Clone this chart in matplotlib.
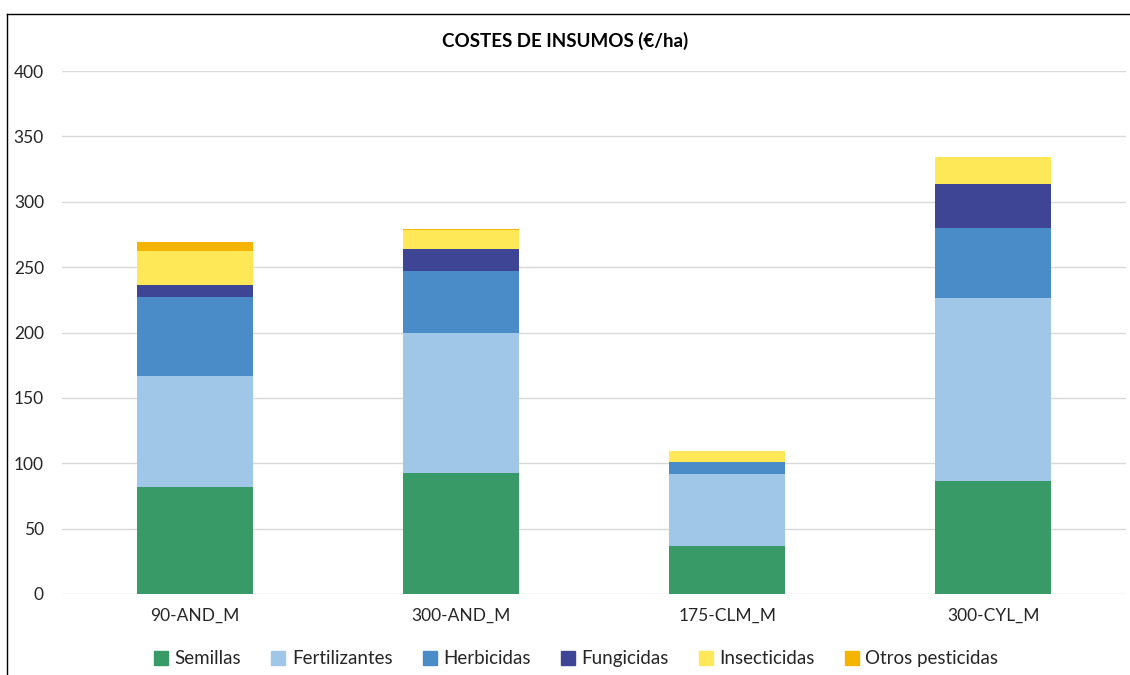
import matplotlib
matplotlib.use("Agg")
import matplotlib.pyplot as plt
import numpy as np
from matplotlib.patches import Rectangle
from matplotlib.lines import Line2D

categories = ["90-AND_M", "300-AND_M", "175-CLM_M", "300-CYL_M"]
series_names = ["Semillas", "Fertilizantes", "Herbicidas", "Fungicidas", "Insecticidas", "Otros pesticidas"]
semillas = [82, 92.5, 37, 86.5]
fertilizantes = [85, 107, 54.5, 140]
herbicidas = [60, 47.5, 9.5, 53.5]
fungicidas = [9.5, 17, 0, 33.5]
insecticidas = [25.5, 14.5, 8, 21]
otros = [7, 0.8, 0, 0]
colors = ["#389A66", "#A0C6E8", "#4A8CC8", "#3E4594", "#FFE857", "#F5B400"]
yticks = [0, 50, 100, 150, 200, 250, 300, 350, 400]

plt.rcParams['font.family'] = ['Lato', 'DejaVu Sans']

fig = plt.figure(figsize=(11.3, 6.75), dpi=100)
ax = fig.add_axes([0.0549, 0.12, 0.942, 0.7748])

x = np.arange(len(categories))
bottom = np.zeros(len(categories))
data = [semillas, fertilizantes, herbicidas, fungicidas, insecticidas, otros]
for name, vals, c in zip(series_names, data, colors):
    ax.bar(x, vals, width=0.436, bottom=bottom, color=c, label=name, zorder=3)
    bottom += np.array(vals)

ax.set_xlim(-0.5, 3.5)
ax.set_ylim(0, 400)
ax.set_yticks(yticks)
ax.set_xticks(x)
ax.set_xticklabels(categories, fontsize=12.5, color="#262626")
ax.tick_params(axis='y', labelsize=12.5, colors="#262626", length=0, pad=13)
ax.tick_params(axis='x', length=0, pad=10)
ax.grid(axis='y', color="#D9D9D9", linewidth=1, zorder=0)
for s in ax.spines.values():
    s.set_visible(False)

fig.text(0.5, 0.94, "COSTES DE INSUMOS (€/ha)", ha='center', va='center',
         fontsize=13.5, fontweight='bold', color="#000000")

handles = [Rectangle((0, 0), 1, 1, color=c) for c in colors]
fig.legend(handles, series_names, loc='center', bbox_to_anchor=(0.51, 0.024),
           ncol=6, frameon=False, fontsize=13.5, handlelength=0.75, handleheight=0.75,
           columnspacing=1.6, handletextpad=0.35, labelcolor="#262626")

# chart border (top and left visible)
fig.add_artist(Line2D([0.0062, 1.0], [1 - 14/675, 1 - 14/675], color="#000000", lw=1, transform=fig.transFigure))
fig.add_artist(Line2D([0.0062, 0.0062], [0, 1 - 14/675], color="#000000", lw=1, transform=fig.transFigure))

fig.savefig("out.png", dpi=100)
